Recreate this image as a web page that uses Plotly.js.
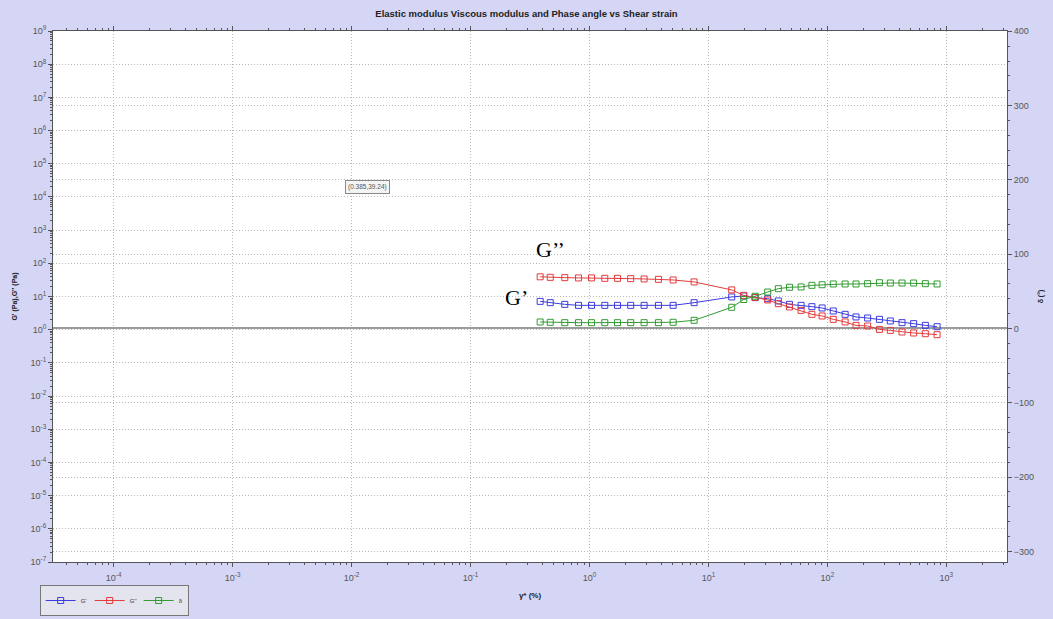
<!DOCTYPE html>
<html>
<head>
<meta charset="utf-8">
<script src="https://cdn.plot.ly/plotly-3.0.1.min.js"></script>
<style>html,body{margin:0;padding:0;background:#d5d6f5;}#chart{width:1053px;height:619px;}</style>
</head>
<body>
<div id="chart"></div>
<script>
// Shear strain (%)
const strain = [0.385, 0.468, 0.62, 0.809, 1.04, 1.345, 1.72, 2.22, 2.88, 3.80, 5.05, 7.58,
  15.7, 19.8, 24.7, 31.5, 38.7, 48.0, 60.1, 74.1, 90.3, 112, 141, 174, 218, 274, 338, 424, 531, 666, 836];
// G' (Pa)
const gPrime = [7.14, 6.52, 5.80, 5.41, 5.41, 5.41, 5.41, 5.41, 5.41, 5.41, 5.41, 6.52,
  9.69, 10.4, 9.23, 8.61, 7.34, 5.80, 5.41, 4.94, 4.51, 3.66, 2.90, 2.42, 2.25, 2.05, 1.83, 1.63, 1.52, 1.35, 1.23];
// G'' (Pa)
const gDouble = [39.24, 37.8, 37.0, 36.3, 36.3, 35.3, 35.3, 34.5, 33.8, 32.9, 31.5, 27.5,
  15.8, 10.8, 9.42, 7.87, 6.08, 4.84, 3.82, 2.90, 2.59, 2.05, 1.71, 1.35, 1.29, 1.02, 0.953, 0.852, 0.795, 0.757, 0.707];
// Phase angle delta (deg)
const delta = [8.75, 8.34, 7.81, 7.81, 7.81, 7.81, 7.81, 7.81, 7.81, 7.81, 8.34, 11.0,
  28.5, 39.0, 43.3, 49.1, 53.6, 55.5, 55.9, 58.1, 58.9, 59.9, 59.9, 59.9, 60.3, 61.6, 61.2, 61.2, 61.2, 60.3, 59.9];

// Tick positions (decade exponents) and labels
const xExp = [-4, -3, -2, -1, 0, 1, 2, 3];
const yExp = [-7, -6, -5, -4, -3, -2, -1, 0, 1, 2, 3, 4, 5, 6, 7, 8, 9];

const names = ["G'", "G''", "δ"];
const colors = ["rgb(60,60,225)", "rgb(228,60,60)", "rgb(50,155,50)"];

const mk = (y, i, axis) => ({
  x: strain, y: y, name: names[i], yaxis: axis, type: 'scatter', mode: 'lines+markers',
  line: {color: colors[i], width: 1},
  marker: {symbol: 'square-open', size: 6, color: colors[i], line: {width: 1, color: colors[i]}}
});

const traces = [mk(gPrime, 0, 'y'), mk(gDouble, 1, 'y'), mk(delta, 2, 'y2')];

const tickFont = {family: 'Liberation Sans, Arial, sans-serif', size: 9, color: '#555'};
const titleFont = {family: 'Liberation Sans, Arial, sans-serif', size: 8, color: '#222'};
const gridDash = '1px,2px';
const gridColor = '#b8b8b8';
const pow = e => '10<sup>' + e + '</sup>';

const layout = {
  width: 1053, height: 619,
  paper_bgcolor: '#d5d6f5', plot_bgcolor: '#ffffff',
  margin: {l: 53, r: 46, t: 31, b: 57, autoexpand: false},
  title: {text: '<b>Elastic modulus Viscous modulus and Phase angle vs Shear strain</b>',
    font: {family: 'Liberation Sans, Arial, sans-serif', size: 9.5, color: '#222'},
    x: 0.5, xanchor: 'center', y: 1 - 14/619, yanchor: 'middle'},
  showlegend: true,
  legend: {orientation: 'h', x: -0.014, xanchor: 'left', y: -0.1017, yanchor: 'bottom',
    font: {family: 'Liberation Sans, Arial, sans-serif', size: 6, color: '#333'},
    bgcolor: '#e4e4ee', bordercolor: '#777', borderwidth: 1, itemwidth: 30,
    tracegroupgap: 0, entrywidth: 4},
  xaxis: {type: 'log', range: [-4.51, 3.51],
    tickmode: 'array', tickvals: xExp.map(e => Math.pow(10, e)), ticktext: xExp.map(pow),
    showline: true, linecolor: '#555', linewidth: 1, mirror: 'ticks',
    ticks: 'outside', ticklen: 4, tickcolor: '#555', ticklabelstandoff: 3,
    minor: {ticks: 'outside', ticklen: 2, tickcolor: '#555', dtick: 'D1', showgrid: false},
    showgrid: true, gridcolor: gridColor, griddash: gridDash, gridwidth: 1,
    zeroline: false, tickfont: tickFont,
    title: {text: '<b>γ* (%)</b>', font: titleFont, standoff: 10}},
  yaxis: {type: 'log', range: [-7, 9],
    tickmode: 'array', tickvals: yExp.map(e => Math.pow(10, e)), ticktext: yExp.map(pow),
    showline: true, linecolor: '#555', linewidth: 1,
    ticks: 'outside', ticklen: 4, tickcolor: '#555',
    minor: {ticks: 'outside', ticklen: 2, tickcolor: '#555', dtick: 'D1', showgrid: false},
    showgrid: true, gridcolor: gridColor, griddash: gridDash, gridwidth: 1,
    zeroline: false, tickfont: tickFont,
    title: {text: "<b>G' (Pa),G'' (Pa)</b>", font: {family: 'Liberation Sans, Arial, sans-serif', size: 7, color: '#222'}, standoff: 12}},
  yaxis2: {overlaying: 'y', side: 'right', range: [-314.3, 400.4], dtick: 100,
    showline: true, linecolor: '#555', linewidth: 1,
    ticks: 'outside', ticklen: 4, tickcolor: '#555',
    minor: {ticks: 'outside', ticklen: 2, tickcolor: '#555', dtick: 20, showgrid: false},
    showgrid: true, gridcolor: gridColor, griddash: gridDash, gridwidth: 1,
    zeroline: true, zerolinecolor: '#9a9a9a', zerolinewidth: 2,
    tickfont: tickFont,
    title: {text: '<b>δ (°)</b>', font: {family: 'Liberation Sans, Arial, sans-serif', size: 7, color: '#222'}, standoff: 5}},
  annotations: [
    {xref: 'paper', yref: 'paper', x: 0.521, y: 0.588, xanchor: 'center', yanchor: 'middle',
      text: 'G’’', showarrow: false,
      font: {family: 'Liberation Serif, Times New Roman, serif', size: 22, color: '#000'}},
    {xref: 'paper', yref: 'paper', x: 0.486, y: 0.499, xanchor: 'center', yanchor: 'middle',
      text: 'G’', showarrow: false,
      font: {family: 'Liberation Serif, Times New Roman, serif', size: 22, color: '#000'}},
    {xref: 'paper', yref: 'paper', x: 0.330, y: 0.706, xanchor: 'center', yanchor: 'middle',
      text: '(0.385,39.24)', showarrow: false,
      font: {family: 'Liberation Sans, Arial, sans-serif', size: 6.5, color: '#555'},
      bordercolor: '#888', borderwidth: 1, borderpad: 2, bgcolor: '#f4f4f4'}
  ]
};

Plotly.newPlot('chart', traces, layout, {displayModeBar: false, staticPlot: true});
</script>
</body>
</html>
